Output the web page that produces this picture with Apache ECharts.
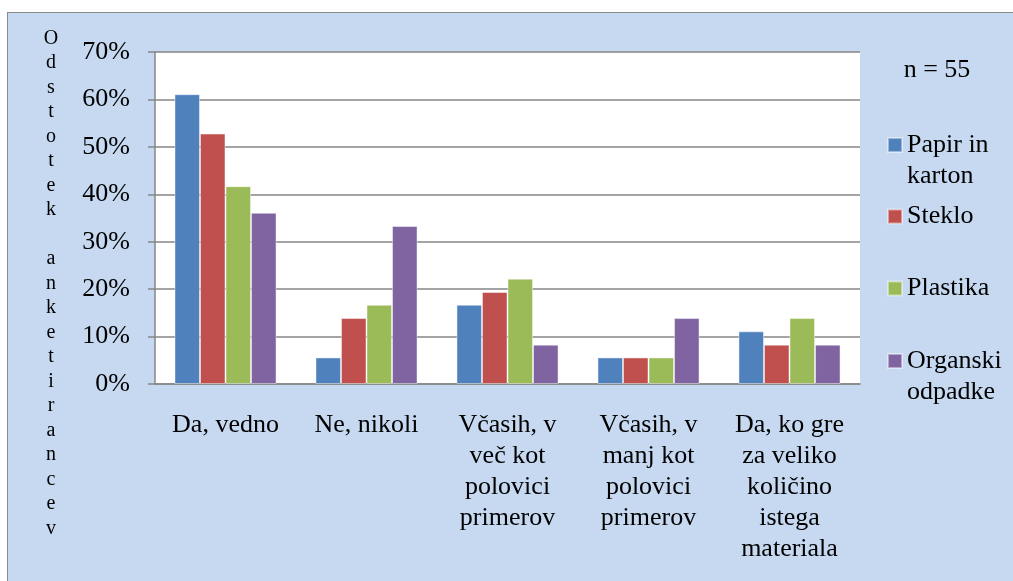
<!DOCTYPE html>
<html>
<head>
<meta charset="utf-8">
<script src="https://cdn.jsdelivr.net/npm/echarts@6/dist/echarts.min.js"></script>
<style>
body { margin: 0; background: #fff; }
#bg {
  position: absolute; left: 7px; top: 12px; width: 1100px; height: 700px;
  background: #c6d9f1; border-left: 1px solid #8a8a8a; border-top: 1px solid #8a8a8a;
}
#chart { position: absolute; left: 0; top: 0; width: 1013px; height: 581px; }
</style>
</head>
<body>
<div id="bg"></div>
<div id="chart"></div>
<script>
// podatki (odstotki)
const categories = [
  'Da, vedno',
  'Ne, nikoli',
  'Včasih, v\nveč kot\npolovici\nprimerov',
  'Včasih, v\nmanj kot\npolovici\nprimerov',
  'Da, ko gre\nza veliko\nkoličino\nistega\nmateriala'
]
const papir = [61.1, 5.6, 16.7, 5.6, 11.1]
const steklo = [52.8, 13.9, 19.4, 5.6, 8.3]
const plastika = [41.7, 16.7, 22.2, 5.6, 13.9]
const organski = [36.1, 33.3, 8.3, 13.9, 8.3]
const seriesNames = ['Papir in karton', 'Steklo', 'Plastika', 'Organski odpadke']
const yTicks = [0, 10, 20, 30, 40, 50, 60, 70]

const font = '"Liberation Serif", "DejaVu Serif", serif'
const colors = ['#4f81bd', '#c0504d', '#9bbb59', '#8064a2']

const chart = echarts.init(document.getElementById('chart'))

// prva vrstica dvovrsticnih imen poravnana z ikono (prazna vrstica zgoraj)
const legendTops = [98.5, 201, 273, 314.5]
const twoLine = { 'Papir in karton': '\nPapir in\nkarton', 'Organski odpadke': '\nOrganski\nodpadke' }

chart.setOption({
  color: colors,
  animation: false,
  grid: {
    left: 155, top: 52, right: 153, bottom: 197,
    show: true, backgroundColor: '#fff', borderWidth: 0
  },
  graphic: [
    {
      type: 'text',
      x: 51, y: 26,
      style: {
        text: 'Odstotek anketirancev'.split('').join('\n'),
        fontFamily: font, fontSize: 20, lineHeight: 24.5,
        fill: '#000', align: 'center', verticalAlign: 'top'
      }
    },
    {
      type: 'text',
      x: 937, y: 70,
      style: {
        text: 'n = 55',
        fontFamily: font, fontSize: 26,
        fill: '#000', align: 'center', verticalAlign: 'middle'
      }
    }
  ],
  legend: seriesNames.map((name, i) => ({
    data: [name],
    left: 887,
    top: legendTops[i],
    padding: 0,
    itemWidth: 14,
    itemHeight: 14,
    itemGap: 0,
    icon: 'rect',
    selectedMode: false,
    formatter: n => twoLine[n] || n,
    textStyle: { fontFamily: font, fontSize: 26, lineHeight: 31, color: '#000' }
  })),
  xAxis: {
    type: 'category',
    data: categories,
    axisLine: { lineStyle: { color: '#868686', width: 1.5 } },
    axisTick: { length: 7, lineStyle: { color: '#868686', width: 1.5 } },
    axisLabel: {
      margin: 26, interval: 0,
      fontFamily: font, fontSize: 26, lineHeight: 31, color: '#000', align: 'center'
    }
  },
  yAxis: {
    type: 'value',
    min: yTicks[0],
    max: yTicks[yTicks.length - 1],
    interval: 10,
    axisLine: { show: true, lineStyle: { color: '#868686', width: 1.5 } },
    axisTick: { show: true, length: 7, lineStyle: { color: '#868686', width: 1.5 } },
    splitLine: { lineStyle: { color: '#868686', width: 1.5 } },
    axisLabel: {
      margin: 25,
      formatter: '{value}%',
      fontFamily: font, fontSize: 26, color: '#000'
    }
  },
  series: [papir, steklo, plastika, organski].map((d, i) => ({
    name: seriesNames[i],
    type: 'bar',
    data: d,
    barGap: '0%',
    barCategoryGap: '27.6%',
    itemStyle: { color: colors[i], borderColor: 'rgba(255,255,255,0.45)', borderWidth: 1 }
  }))
})
</script>
</body>
</html>
